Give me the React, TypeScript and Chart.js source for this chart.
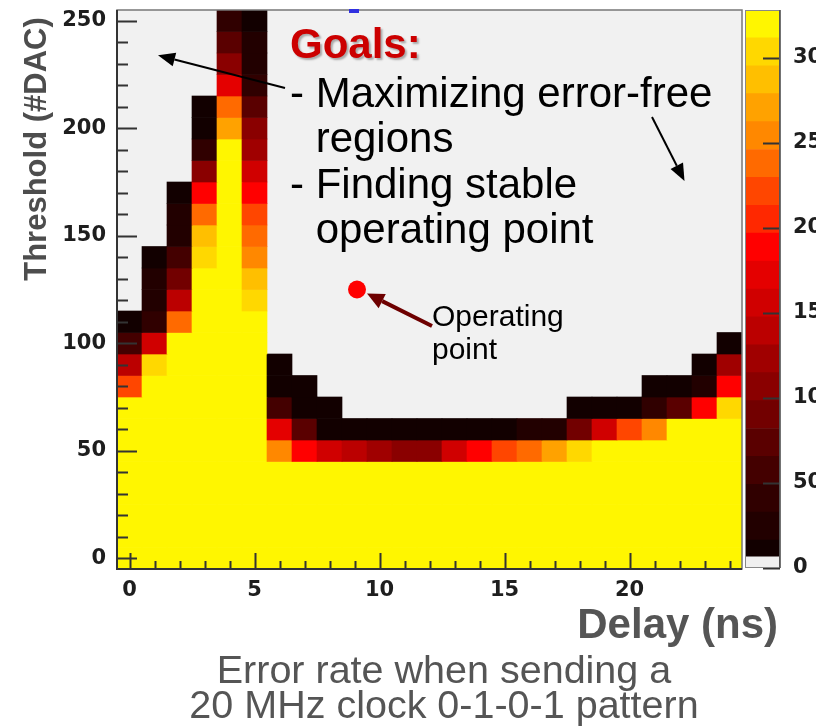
import React, { useEffect, useRef } from 'react';
import { Chart, registerables } from 'chart.js';

Chart.register(...registerables);

// ---------- data ----------
const delays = [0, 1, 2, 3, 4, 5, 6, 7, 8, 9, 10, 11, 12, 13, 14, 15, 16, 17, 18, 19, 20, 21, 22, 23, 24];
// threshold bins (rows), from top to bottom
const thresholds = [250, 240, 230, 220, 210, 200, 190, 180, 170, 160, 150, 140, 130, 120, 110, 100, 90, 80, 70, 60, 50, 40, 30, 20, 10, 0];
// error counts per (threshold row, delay column)
const errorCounts: number[][] = [
  [0, 0, 0, 0, 45, 12, 0, 0, 0, 0, 0, 0, 0, 0, 0, 0, 0, 0, 0, 0, 0, 0, 0, 0, 0],
  [0, 0, 0, 0, 80, 20, 0, 0, 0, 0, 0, 0, 0, 0, 0, 0, 0, 0, 0, 0, 0, 0, 0, 0, 0],
  [0, 0, 0, 0, 110, 30, 0, 0, 0, 0, 0, 0, 0, 0, 0, 0, 0, 0, 0, 0, 0, 0, 0, 0, 0],
  [0, 0, 0, 0, 172, 45, 0, 0, 0, 0, 0, 0, 0, 0, 0, 0, 0, 0, 0, 0, 0, 0, 0, 0, 0],
  [0, 0, 0, 12, 230, 75, 0, 0, 0, 0, 0, 0, 0, 0, 0, 0, 0, 0, 0, 0, 0, 0, 0, 0, 0],
  [0, 0, 0, 15, 270, 100, 0, 0, 0, 0, 0, 0, 0, 0, 0, 0, 0, 0, 0, 0, 0, 0, 0, 0, 0],
  [0, 0, 0, 40, 320, 130, 0, 0, 0, 0, 0, 0, 0, 0, 0, 0, 0, 0, 0, 0, 0, 0, 0, 0, 0],
  [0, 0, 0, 100, 320, 160, 0, 0, 0, 0, 0, 0, 0, 0, 0, 0, 0, 0, 0, 0, 0, 0, 0, 0, 0],
  [0, 0, 12, 188, 320, 190, 0, 0, 0, 0, 0, 0, 0, 0, 0, 0, 0, 0, 0, 0, 0, 0, 0, 0, 0],
  [0, 0, 20, 238, 320, 215, 0, 0, 0, 0, 0, 0, 0, 0, 0, 0, 0, 0, 0, 0, 0, 0, 0, 0, 0],
  [0, 0, 30, 285, 320, 240, 0, 0, 0, 0, 0, 0, 0, 0, 0, 0, 0, 0, 0, 0, 0, 0, 0, 0, 0],
  [0, 12, 50, 303, 320, 262, 0, 0, 0, 0, 0, 0, 0, 0, 0, 0, 0, 0, 0, 0, 0, 0, 0, 0, 0],
  [0, 20, 90, 320, 320, 285, 0, 0, 0, 0, 0, 0, 0, 0, 0, 0, 0, 0, 0, 0, 0, 0, 0, 0, 0],
  [0, 30, 140, 320, 320, 303, 0, 0, 0, 0, 0, 0, 0, 0, 0, 0, 0, 0, 0, 0, 0, 0, 0, 0, 0],
  [12, 45, 230, 320, 320, 320, 0, 0, 0, 0, 0, 0, 0, 0, 0, 0, 0, 0, 0, 0, 0, 0, 0, 0, 0],
  [57, 155, 320, 320, 320, 320, 0, 0, 0, 0, 0, 0, 0, 0, 0, 0, 0, 0, 0, 0, 0, 0, 0, 0, 12],
  [145, 303, 320, 320, 320, 320, 12, 0, 0, 0, 0, 0, 0, 0, 0, 0, 0, 0, 0, 0, 0, 0, 0, 12, 122],
  [220, 320, 320, 320, 320, 320, 12, 12, 0, 0, 0, 0, 0, 0, 0, 0, 0, 0, 0, 0, 0, 12, 12, 25, 188],
  [320, 320, 320, 320, 320, 320, 57, 12, 12, 0, 0, 0, 0, 0, 0, 0, 0, 0, 12, 12, 12, 45, 73, 188, 303],
  [320, 320, 320, 320, 320, 320, 172, 73, 12, 12, 12, 12, 12, 12, 12, 12, 25, 25, 90, 155, 220, 254, 320, 320, 320],
  [320, 320, 320, 320, 320, 320, 254, 188, 155, 140, 122, 110, 110, 155, 188, 220, 238, 270, 303, 320, 320, 320, 320, 320, 320],
  [320, 320, 320, 320, 320, 320, 320, 320, 320, 320, 320, 320, 320, 320, 320, 320, 320, 320, 320, 320, 320, 320, 320, 320, 320],
  [320, 320, 320, 320, 320, 320, 320, 320, 320, 320, 320, 320, 320, 320, 320, 320, 320, 320, 320, 320, 320, 320, 320, 320, 320],
  [320, 320, 320, 320, 320, 320, 320, 320, 320, 320, 320, 320, 320, 320, 320, 320, 320, 320, 320, 320, 320, 320, 320, 320, 320],
  [320, 320, 320, 320, 320, 320, 320, 320, 320, 320, 320, 320, 320, 320, 320, 320, 320, 320, 320, 320, 320, 320, 320, 320, 320],
  [320, 320, 320, 320, 320, 320, 320, 320, 320, 320, 320, 320, 320, 320, 320, 320, 320, 320, 320, 320, 320, 320, 320, 320, 320],
];
const xTicks = [0, 5, 10, 15, 20];
const yTicks = [0, 50, 100, 150, 200, 250];
const zTicks = [0, 50, 100, 150, 200, 250, 300];
const paletteBounds = [0, 6.5, 16.4, 32.8, 49.2, 65.6, 82, 98.4, 114.8, 131.2, 147.6, 164, 180.4, 196.8, 213.2, 229.6, 246, 262.4, 278.8, 295.2, 311.6, 328];
const paletteColors = ['#f0f0f0', '#120000', '#220000', '#300000', '#440000', '#5a0000', '#720000', '#8a0000', '#a00000', '#bb0000', '#d00000', '#e40000', '#ff0000', '#ff2800', '#ff4600', '#ff6a00', '#ff8800', '#ffa200', '#ffbf00', '#ffd800', '#fff600'];
const operatingPoint = [{ x: 9.1, y: 125 }];

const colorFor = (z: number) => {
  for (let i = paletteBounds.length - 2; i >= 0; i--) if (z >= paletteBounds[i]) return paletteColors[i];
  return paletteColors[0];
};

const SANS = '"Liberation Sans", Arial, sans-serif';
const TICKFONT = { family: '"DejaVu Sans", sans-serif', weight: 'bold' as const, size: 21 };

function arrow(ctx: CanvasRenderingContext2D, x1: number, y1: number, x2: number, y2: number, color: string, lw: number, hl: number, hw: number) {
  const a = Math.atan2(y2 - y1, x2 - x1);
  const bx = x2 - hl * Math.cos(a);
  const by = y2 - hl * Math.sin(a);
  ctx.save();
  ctx.strokeStyle = color;
  ctx.lineWidth = lw;
  ctx.beginPath();
  ctx.moveTo(x1, y1);
  ctx.lineTo(bx, by);
  ctx.stroke();
  ctx.fillStyle = color;
  ctx.beginPath();
  ctx.moveTo(x2, y2);
  ctx.lineTo(bx + hw * Math.sin(a), by - hw * Math.cos(a));
  ctx.lineTo(bx - hw * Math.sin(a), by + hw * Math.cos(a));
  ctx.closePath();
  ctx.fill();
  ctx.restore();
}

const mainPlugin = {
  id: 'rootStyle',
  beforeDatasetsDraw(chart: any) {
    const { ctx, chartArea: a } = chart;
    ctx.save();
    ctx.fillStyle = '#f1f1f1';
    ctx.fillRect(a.left, a.top, a.right - a.left, a.bottom - a.top);
    ctx.restore();
  },
  afterDatasetsDraw(chart: any) {
    const { ctx, chartArea: a } = chart;
    const xs = chart.scales.x;
    const ys = chart.scales.y;
    ctx.save();
    // ticks (inside, ROOT style)
    ctx.strokeStyle = '#333';
    ctx.lineWidth = 2;
    ctx.beginPath();
    for (let v = 0; v <= 24; v++) {
      const p = Math.round(xs.getPixelForValue(v)) + 0.5;
      const len = v % 5 === 0 ? 16 : 8;
      ctx.moveTo(p, a.bottom);
      ctx.lineTo(p, a.bottom - len);
    }
    for (let v = 0; v <= 250; v += 10) {
      const p = Math.round(ys.getPixelForValue(v)) + 0.5;
      const len = v % 50 === 0 ? 20 : 11;
      ctx.moveTo(a.left, p);
      ctx.lineTo(a.left + len, p);
    }
    ctx.stroke();
    // frame
    ctx.strokeStyle = '#777';
    ctx.lineWidth = 1.5;
    ctx.strokeRect(a.left, a.top, a.right - a.left, a.bottom - a.top);
    ctx.strokeStyle = '#333';
    ctx.lineWidth = 2;
    ctx.beginPath();
    ctx.moveTo(a.left, a.top);
    ctx.lineTo(a.left, a.bottom);
    ctx.lineTo(a.right, a.bottom);
    ctx.stroke();
    // small marker at top
    ctx.fillStyle = '#3030e0';
    ctx.fillRect(349, 9, 10, 4);
    ctx.restore();
  },
  afterDraw(chart: any) {
    const { ctx } = chart;
    const xs = chart.scales.x;
    const ys = chart.scales.y;
    ctx.save();
    // Goals text
    ctx.textBaseline = 'alphabetic';
    ctx.textAlign = 'left';
    ctx.font = `bold 42px ${SANS}`;
    ctx.shadowColor = 'rgba(0,0,0,0.3)';
    ctx.shadowOffsetX = 2;
    ctx.shadowOffsetY = 2;
    ctx.shadowBlur = 2;
    ctx.fillStyle = '#cc0000';
    ctx.fillText('Goals:', 290, 58);
    ctx.shadowColor = 'transparent';
    ctx.font = `42px ${SANS}`;
    ctx.fillStyle = '#000';
    const ind = 290 + ctx.measureText('- ').width;
    ctx.fillText('- Maximizing error-free', 290, 107);
    ctx.fillText('regions', ind, 152);
    ctx.fillText('- Finding stable', 290, 198);
    ctx.fillText('operating point', ind, 243);
    ctx.font = `30px ${SANS}`;
    ctx.fillText('Operating', 432, 326);
    ctx.fillText('point', 432, 359);
    // arrows
    arrow(ctx, 285, 88, xs.getPixelForValue(1.14), ys.getPixelForValue(234), '#000', 2, 17, 7);
    arrow(ctx, 652, 117, xs.getPixelForValue(22.2), ys.getPixelForValue(175.5), '#000', 2, 17, 7);
    const opx = xs.getPixelForValue(operatingPoint[0].x);
    const opy = ys.getPixelForValue(operatingPoint[0].y);
    arrow(ctx, 432, 326, opx + 10, opy + 4, '#6e0000', 4, 17, 8);
    // axis titles
    ctx.fillStyle = '#4d4d4d';
    ctx.font = `bold 31px ${SANS}`;
    ctx.save();
    ctx.translate(37, 149);
    ctx.rotate(-Math.PI / 2);
    ctx.textAlign = 'center';
    ctx.textBaseline = 'middle';
    ctx.fillText('Threshold (#DAC)', 0, 0);
    ctx.restore();
    ctx.fillStyle = '#555';
    ctx.font = `bold 42px ${SANS}`;
    ctx.textAlign = 'right';
    ctx.fillText('Delay (ns)', 778, 638);
    // caption
    ctx.font = `39.5px ${SANS}`;
    ctx.textAlign = 'center';
    ctx.fillText('Error rate when sending a', 444, 683);
    ctx.fillText('20 MHz clock 0-1-0-1 pattern', 444, 718);
    ctx.restore();
  },
};

const barPlugin = {
  id: 'paletteFrame',
  afterDatasetsDraw(chart: any) {
    const { ctx, chartArea: a } = chart;
    const ys = chart.scales.y;
    ctx.save();
    ctx.strokeStyle = '#333';
    ctx.lineWidth = 2;
    ctx.beginPath();
    for (const v of zTicks) {
      const p = Math.round(ys.getPixelForValue(v)) + 0.5;
      ctx.moveTo(a.right, p);
      ctx.lineTo(a.right - 17, p);
    }
    ctx.stroke();
    ctx.strokeStyle = '#888';
    ctx.lineWidth = 1;
    ctx.strokeRect(a.left + 0.5, a.top + 0.5, a.right - a.left - 1, a.bottom - a.top - 1);
    ctx.strokeStyle = '#444';
    ctx.lineWidth = 1.5;
    ctx.beginPath();
    ctx.moveTo(a.right, a.top);
    ctx.lineTo(a.right, a.bottom);
    ctx.stroke();
    ctx.restore();
  },
};

export default function App() {
  const mainRef = useRef<HTMLCanvasElement>(null);
  const barRef = useRef<HTMLCanvasElement>(null);

  useEffect(() => {
    if (!mainRef.current || !barRef.current) return;

    const heatDatasets: any[] = thresholds.map((t, i) => ({
      type: 'bar',
      data: delays
        .map((d, j) => ({ x: d, y: [t - 5, t + 5], z: errorCounts[i][j] }))
        .filter((c) => c.z > 0),
      backgroundColor: (c: any) => colorFor(c.raw ? c.raw.z : 0),
      borderWidth: 0,
      barPercentage: 1,
      categoryPercentage: 1,
      grouped: false,
      order: 2,
    }));

    const main = new Chart(mainRef.current, {
      type: 'bar',
      data: {
        datasets: [
          {
            type: 'scatter',
            data: operatingPoint,
            pointRadius: 9,
            pointBackgroundColor: '#ff0000',
            pointBorderWidth: 0,
            order: 0,
          } as any,
          ...heatDatasets,
        ],
      },
      options: {
        responsive: false,
        animation: false,
        devicePixelRatio: 1,
        events: [],
        layout: { padding: { left: 0, top: 10, right: 85, bottom: 108 } },
        plugins: { legend: { display: false }, tooltip: { enabled: false } },
        scales: {
          x: {
            type: 'linear',
            min: -0.5,
            max: 24.5,
            offset: false,
            grid: { display: false, offset: false },
            border: { display: false },
            afterBuildTicks: (s: any) => {
              s.ticks = xTicks.map((v) => ({ value: v }));
            },
            afterFit: (s: any) => {
              s.height = 50;
              s.paddingLeft = 0;
              s.paddingRight = 0;
            },
            ticks: { font: TICKFONT, color: '#1e1e1e', padding: 1, maxRotation: 0, autoSkip: false },
          },
          y: {
            type: 'linear',
            min: -5,
            max: 255,
            grid: { display: false },
            border: { display: false },
            afterBuildTicks: (s: any) => {
              s.ticks = yTicks.map((v) => ({ value: v }));
            },
            afterFit: (s: any) => {
              s.width = 117;
              s.paddingTop = 0;
              s.paddingBottom = 0;
            },
            ticks: { font: TICKFONT, color: '#1e1e1e', padding: 3, autoSkip: false },
          },
        },
      } as any,
      plugins: [mainPlugin],
    });

    const bar = new Chart(barRef.current, {
      type: 'bar',
      data: {
        labels: ['z'],
        datasets: paletteColors.map((c, i) => ({
          data: [[paletteBounds[i], paletteBounds[i + 1]]],
          backgroundColor: c,
          borderWidth: 0,
          barPercentage: 1,
          categoryPercentage: 1,
          grouped: false,
        })) as any,
      },
      options: {
        responsive: false,
        animation: false,
        devicePixelRatio: 1,
        events: [],
        layout: { padding: { left: 2, top: 10, right: 0, bottom: 32 } },
        plugins: { legend: { display: false }, tooltip: { enabled: false } },
        scales: {
          x: { display: false },
          y: {
            type: 'linear',
            position: 'right',
            min: 0,
            max: 328,
            grid: { display: false },
            border: { display: false },
            afterBuildTicks: (s: any) => {
              s.ticks = zTicks.map((v) => ({ value: v }));
            },
            afterFit: (s: any) => {
              s.width = 36;
              s.paddingTop = 0;
              s.paddingBottom = 0;
            },
            ticks: { font: TICKFONT, color: '#1e1e1e', padding: 5, autoSkip: false },
          },
        },
      } as any,
      plugins: [barPlugin],
    });

    return () => {
      main.destroy();
      bar.destroy();
    };
  }, []);

  return (
    <div style={{ position: 'absolute', left: 0, top: 0, width: 827, height: 727, background: '#fff', overflow: 'hidden' }}>
      <canvas ref={mainRef} width={827} height={727} style={{ position: 'absolute', left: 0, top: 0, width: 827, height: 727 }} />
      <canvas ref={barRef} width={73} height={600} style={{ position: 'absolute', left: 743, top: 0, width: 73, height: 600 }} />
    </div>
  );
}
